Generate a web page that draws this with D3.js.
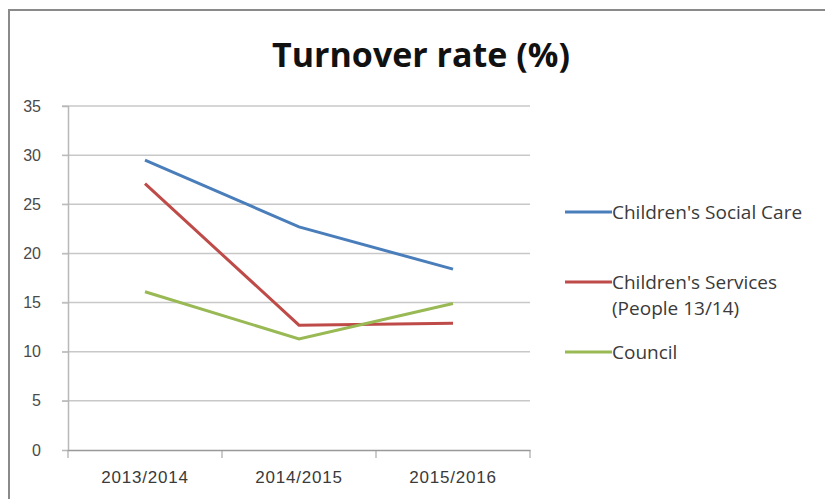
<!DOCTYPE html>
<html lang="en">
  <head>
    <meta charset="UTF-8" />
    <title>Turnover rate (%)</title>
    <style>
      body { margin: 0; background: #fff; }
      svg { display: block; font-family: "Open Sans", sans-serif; }
    </style>
  </head>
  <body>
    <svg width="825" height="499"></svg>

    <script src="https://d3js.org/d3.v7.min.js"></script>
    <script>
      const years = ["2013/2014", "2014/2015", "2015/2016"];
      const socialCare = [29.5, 22.7, 18.4];
      const childrensServices = [27.1, 12.7, 12.9];
      const council = [16.1, 11.3, 14.9];
      const yTicks = [0, 5, 10, 15, 20, 25, 30, 35];

      const series = [
        { name: ["Children's Social Care"], values: socialCare, color: "#4a7ebb", ly: 212 },
        { name: ["Children's Services", "(People 13/14)"], values: childrensServices, color: "#be4b48", ly: 282 },
        { name: ["Council"], values: council, color: "#98b954", ly: 352 },
      ];

      const svg = d3.select("svg");

      // frame
      svg.append("path")
        .attr("d", "M9,499V10H825")
        .attr("fill", "none")
        .attr("stroke", "#8a8a8a")
        .attr("stroke-width", 2);

      svg.append("text")
        .attr("x", 421)
        .attr("y", 67)
        .attr("text-anchor", "middle")
        .attr("font-size", 34)
        .attr("font-weight", "bold")
        .attr("fill", "#111")
        .text("Turnover rate (%)");

      const x = d3.scaleBand().domain(years).range([68, 530]);
      const y = d3.scaleLinear().domain([0, 35]).range([450, 106]);

      // gridlines
      svg.append("g")
        .selectAll("line")
        .data(yTicks.filter((d) => d > 0))
        .join("line")
        .attr("x1", 62)
        .attr("x2", 530)
        .attr("y1", (d) => y(d))
        .attr("y2", (d) => y(d))
        .attr("stroke", "#c8c8c8")
        .attr("stroke-width", 1.5);

      // y axis
      const yAxis = svg.append("g")
        .attr("transform", "translate(68,0)")
        .call(d3.axisLeft(y).tickValues(yTicks).tickSize(6).tickPadding(21));
      yAxis.select(".domain").attr("stroke", "#b8b8b8").attr("stroke-width", 1.5);
      yAxis.selectAll(".tick line").attr("stroke", "#b8b8b8");
      yAxis.selectAll("text").attr("font-size", 16).attr("fill", "#4a4a4a");

      // x axis
      const xAxis = svg.append("g")
        .attr("transform", "translate(0,450)")
        .call(d3.axisBottom(x).tickSize(0).tickPadding(21));
      xAxis.select(".domain").attr("stroke", "#999").attr("stroke-width", 1.5);
      xAxis.selectAll("text")
        .attr("font-size", 17)
        .attr("letter-spacing", 0.8)
        .attr("fill", "#3a3a3a");
      xAxis.selectAll(".sep")
        .data(x.domain().map((d) => x(d)).concat([530]))
        .join("line")
        .attr("x1", (d) => d)
        .attr("x2", (d) => d)
        .attr("y1", 0)
        .attr("y2", 8)
        .attr("stroke", "#999");

      const line = d3.line()
        .x((d, i) => x(years[i]) + x.bandwidth() / 2)
        .y((d) => y(d));

      svg.append("g")
        .selectAll("path")
        .data(series)
        .join("path")
        .attr("d", (d) => line(d.values))
        .attr("fill", "none")
        .attr("stroke", (d) => d.color)
        .attr("stroke-width", 3);

      // legend
      const legend = svg.append("g");
      series.forEach((s) => {
        legend.append("line")
          .attr("x1", 565)
          .attr("x2", 612)
          .attr("y1", s.ly)
          .attr("y2", s.ly)
          .attr("stroke", s.color)
          .attr("stroke-width", 3);
        s.name.forEach((t, i) => {
          legend.append("text")
            .attr("x", 612)
            .attr("y", s.ly + 7 + i * 26)
            .attr("font-size", 19)
            .attr("fill", "#3a3a3a")
            .text(t);
        });
      });
    </script>
  </body>
</html>
